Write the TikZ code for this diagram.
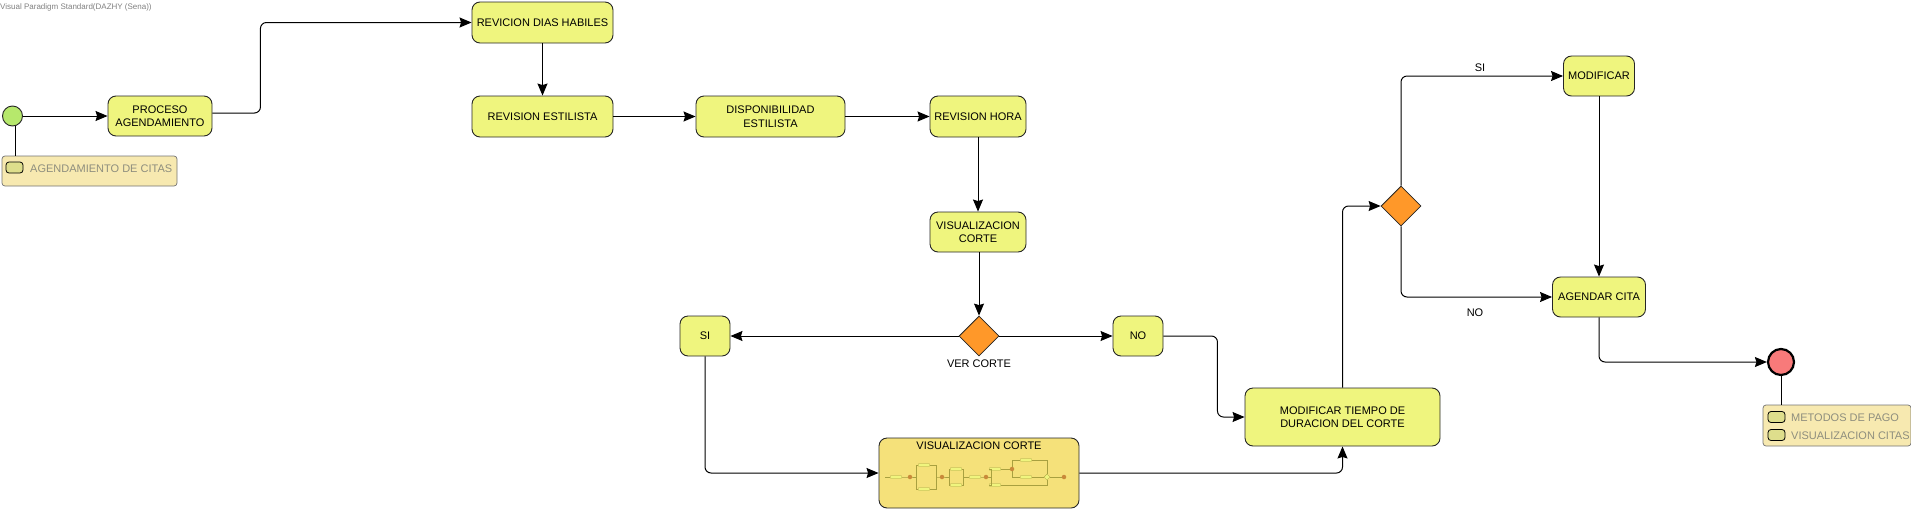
\documentclass[tikz,border=0pt]{standalone}
\usepackage{fontspec}
\setmainfont{Liberation Sans}
\usetikzlibrary{arrows.meta,shapes.geometric}
\definecolor{amarillo}{HTML}{EFF57E}
\definecolor{subact}{HTML}{F5E17A}
\definecolor{fondonota}{HTML}{F7E9B0}
\definecolor{iconnota}{HTML}{DEDE8C}
\definecolor{textonota}{HTML}{8E8E7E}
\definecolor{naranja}{HTML}{FF9829}
\definecolor{verdeini}{HTML}{B6E86C}
\definecolor{rojofin}{HTML}{F87A7A}
\definecolor{oliva}{HTML}{A8A040}
\definecolor{puntomini}{HTML}{C98A3A}
\tikzset{
    estado/.style={draw=black!85,fill=amarillo,rounded corners=8pt,inner sep=0pt,align=center,line width=.9pt},
    decision/.style={diamond,draw=black!85,fill=naranja,minimum width=40pt,minimum height=40pt,inner sep=0pt,line width=.8pt},
    nota/.style={draw=black!55,fill=fondonota,rounded corners=3pt,inner sep=0pt,line width=.7pt},
    iconnota/.style={draw=black,fill=iconnota,rounded corners=3pt,minimum width=17pt,minimum height=11pt,inner sep=0pt,line width=.8pt},
    textnota/.style={text=textonota,anchor=west,inner sep=0pt},
    flecha/.style={->,line width=1pt,rounded corners=6pt},
    minibox/.style={draw=oliva,fill=amarillo,minimum width=11pt,minimum height=3pt,inner sep=0pt,line width=.25pt,rounded corners=.5pt},
    minipunto/.style={draw=none,fill=puntomini,minimum size=4.5pt,inner sep=0pt,circle},
    minilinea/.style={draw=oliva,line width=.25pt}
}
\begin{document}
\begin{tikzpicture}[x=1pt,y=-1pt,>={Stealth[length=12pt,width=10pt,inset=1.5pt]},font=\fontsize{11pt}{13.5pt}\selectfont]
    \useasboundingbox (0,0) rectangle (1911,512);
    \node [anchor=west,inner sep=0pt,text=black!50,font=\fontsize{8pt}{9pt}\selectfont] (marca) at (0,7) {Visual Paradigm Standard(DAZHY (Sena))};
    \node [circle,draw=black!85,fill=verdeini,minimum size=20pt,inner sep=0pt,line width=.9pt] (inicio) at (12.5,116) {};
    \node [estado,minimum width=104pt,minimum height=40pt] (proceso) at (160,116) {PROCESO\\AGENDAMIENTO};
    \node [estado,minimum width=141pt,minimum height=41pt] (revicion) at (542.5,22.5) {REVICION DIAS HABILES};
    \node [estado,minimum width=141pt,minimum height=41pt] (estilista) at (542.5,116.5) {REVISION ESTILISTA};
    \node [estado,minimum width=149pt,minimum height=41pt] (disponible) at (770.5,116.5) {DISPONIBILIDAD\\ESTILISTA};
    \node [estado,minimum width=96pt,minimum height=41pt] (hora) at (978,116.5) {REVISION HORA};
    \node [estado,minimum width=96pt,minimum height=40pt] (vista) at (978,232) {VISUALIZACION\\CORTE};
    \node [decision] (corte) at (979,336) {};
    \node [inner sep=0pt] (vercorte) at (979,364) {VER CORTE};
    \node [estado,minimum width=50pt,minimum height=40pt] (si) at (705,336) {SI};
    \node [estado,minimum width=50pt,minimum height=40pt] (no) at (1138,336) {NO};
    \node [estado,fill=subact,minimum width=200pt,minimum height=70pt] (sub) at (979,473) {};
    \node [inner sep=0pt] (subtitulo) at (979,446) {VISUALIZACION CORTE};
    \node [estado,minimum width=195pt,minimum height=58pt] (tiempo) at (1342.5,417) {MODIFICAR TIEMPO DE\\DURACION DEL CORTE};
    \node [decision] (opcion) at (1401,206) {};
    \node [estado,minimum width=71pt,minimum height=40pt] (modificar) at (1599,76) {MODIFICAR};
    \node [estado,minimum width=93pt,minimum height=40pt] (agendar) at (1599,297) {AGENDAR CITA};
    \node [circle,draw=black,fill=rojofin,minimum size=26pt,inner sep=0pt,line width=2.2pt] (fin) at (1781,362) {};
    \node [inner sep=0pt] (etiqsi) at (1480,68) {SI};
    \node [inner sep=0pt] (etiqno) at (1475,313) {NO};

    \node [nota,minimum width=175pt,minimum height=30pt] (notaini) at (89.5,171) {};
    \node [iconnota] (iconini) at (14.5,167.5) {};
    \node [textnota] (textoini) at (30,169) {AGENDAMIENTO DE CITAS};
    \node [nota,minimum width=148pt,minimum height=41pt] (notafin) at (1837,425.5) {};
    \node [iconnota] (iconpago) at (1776.5,417) {};
    \node [iconnota] (iconcitas) at (1776.5,435) {};
    \node [textnota] (textopago) at (1791,418) {METODOS DE PAGO};
    \node [textnota] (textocitas) at (1791,436) {VISUALIZACION CITAS};

    \draw [line width=1pt] (inicio.south -| notaini.north west) ++(14,0) -- ++(0,30);
    \draw [line width=1pt] (fin.south) -- (fin.south |- notafin.north);

    \draw [flecha] (inicio.east) -- (proceso.west);
    \draw [flecha] ([yshift=3pt]proceso.east) -- ++(48,0) |- (revicion.west);
    \draw [flecha] (revicion.south) -- (estilista.north);
    \draw [flecha] (estilista.east) -- (disponible.west);
    \draw [flecha] (disponible.east) -- (hora.west);
    \draw [flecha] (hora.south) -- (vista.north);
    \draw [flecha] (vista.south -| corte.north) -- (corte.north);
    \draw [flecha] (corte.west) -- (si.east);
    \draw [flecha] (corte.east) -- (no.west);
    \draw [flecha] (no.east) -- ++(54,0) |- (tiempo.west);
    \draw [flecha] (si.south) |- (sub.west);
    \draw [flecha] (sub.east) -| (tiempo.south);
    \draw [flecha] (tiempo.north) |- (opcion.west);
    \draw [flecha] (opcion.north) |- (modificar.west);
    \draw [flecha] (opcion.south) |- (agendar.west);
    \draw [flecha] (modificar.south) -- (agendar.north);
    \draw [flecha] (agendar.south) |- (fin.west);

    \foreach \nombre/\x/\y in {a/896/477,b/924/465,c/924/489,d/956/469,e/956/485,f/975/477,g/995/469,h/995/485,i/1026/460,j/1026/477}
        \node [minibox] (m\nombre) at (\x,\y) {};
    \node [diamond,draw=oliva,fill=amarillo,minimum size=6pt,inner sep=0pt,line width=.25pt] (mz) at (1047,477) {};
    \coordinate (mp) at (910,477);
    \coordinate (mq) at (942,477);
    \coordinate (mr) at (986,477);
    \coordinate (ms) at (1012,469);
    \coordinate (mt) at (1064,477);
    \draw [minilinea] (885,477) -- (ma.west);
    \draw [minilinea] (ma.east) -- (mp) -- (916,477);
    \draw [minilinea] (mb.west) -- (916,465) -- (916,489) -- (mc.west);
    \draw [minilinea] (mb.east) -- (936,465) -- (936,489) -- (mc.east);
    \draw [minilinea] (936,477) -- (mq) -- (949,477);
    \draw [minilinea] (md.west) -- (949,469) -- (949,485) -- (me.west);
    \draw [minilinea] (md.east) -- (963,469) -- (963,485) -- (me.east);
    \draw [minilinea] (963,477) -- (mf.west);
    \draw [minilinea] (mf.east) -- (mr) -- (991,477);
    \draw [minilinea] (mg.west) -- (991,469) -- (991,485) -- (mh.west);
    \draw [minilinea] (mg.east) -- (ms) -- (1012,477) -- (mj.west);
    \draw [minilinea] (ms) -- (1012,460) -- (mi.west);
    \draw [minilinea] (mi.east) -- (1047,460) -- (mz.north);
    \draw [minilinea] (mj.east) -- (mz.west);
    \draw [minilinea] (mh.east) -- (1047,485) -- (mz.south);
    \draw [minilinea] (mz.east) -- (mt);
    \foreach \punto in {mp,mq,mr,ms,mt}
        \node [minipunto] at (\punto) {};
\end{tikzpicture}
\end{document}
